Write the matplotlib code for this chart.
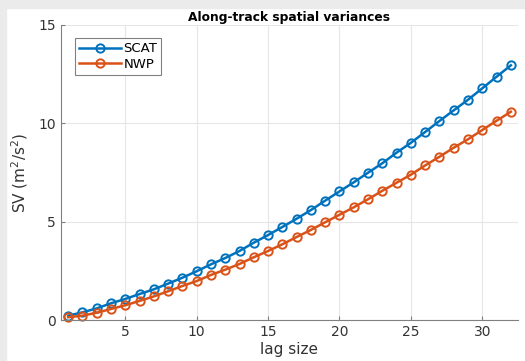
import matplotlib
matplotlib.use('Agg')
import matplotlib.pyplot as plt
from matplotlib.patches import Rectangle

# lag sizes and along-track spatial variances
lag = list(range(1, 33))
scat = [0.22, 0.39, 0.59, 0.85, 1.07, 1.32, 1.56, 1.85, 2.15, 2.48,
        2.83, 3.15, 3.51, 3.93, 4.32, 4.73, 5.15, 5.59, 6.07, 6.54,
        7.00, 7.49, 7.97, 8.51, 9.01, 9.56, 10.12, 10.66, 11.20, 11.78,
        12.37, 12.95]
nwp = [0.14, 0.22, 0.37, 0.56, 0.75, 0.97, 1.20, 1.46, 1.73, 1.98,
       2.29, 2.56, 2.85, 3.19, 3.51, 3.85, 4.22, 4.58, 4.97, 5.35,
       5.73, 6.14, 6.57, 6.98, 7.39, 7.86, 8.30, 8.76, 9.19, 9.66,
       10.13, 10.59]
xticks = [5, 10, 15, 20, 25, 30]
yticks = [0, 5, 10, 15]

fig = plt.figure(figsize=(5.25, 3.61), dpi=100, facecolor='white')
# grey window frame round the MATLAB canvas
fig.patches.append(Rectangle((0, 0), 6 / 525, 1, transform=fig.transFigure,
                             color='#ebebeb', zorder=-1))
fig.patches.append(Rectangle((0, 1 - 8 / 361), 1, 8 / 361, transform=fig.transFigure,
                             color='#ebebeb', zorder=-1))

ax = fig.add_axes([61 / 525, 41 / 361, 457 / 525, 295 / 361])
ax.plot(lag, scat, '-o', color='#0072BD', lw=1.8, ms=6, mew=1.4,
        mfc='none', label='SCAT', clip_on=False)
ax.plot(lag, nwp, '-o', color='#D95319', lw=1.8, ms=6, mew=1.4,
        mfc='none', label='NWP', clip_on=False)

ax.set_xlim(0.5, 32.5)
ax.set_ylim(0, 15)
ax.set_xticks(xticks)
ax.set_yticks(yticks)
ax.grid(True, color='#e6e6e6', lw=0.8)
ax.set_axisbelow(True)
for s in ['top', 'right']:
    ax.spines[s].set_visible(False)
for s in ['left', 'bottom']:
    ax.spines[s].set_color('#808080')
    ax.spines[s].set_linewidth(0.8)
ax.tick_params(direction='in', length=3, color='#808080', labelsize=10,
               labelcolor='#333333')

ax.set_xlabel('lag size', fontsize=11, color='#333333', labelpad=2)
ax.set_ylabel('SV (m$^2$/s$^2$)', fontsize=11, color='#333333', labelpad=6)
ax.set_title('Along-track spatial variances', fontsize=8.8, fontweight='bold', pad=3)

leg = ax.legend(loc='upper left', bbox_to_anchor=(0.03, 0.955), fontsize=9.5,
                fancybox=False, framealpha=1, edgecolor='#808080',
                handlelength=3.2, borderpad=0.3, labelspacing=0.2,
                handletextpad=0.2, borderaxespad=0)
leg.get_frame().set_linewidth(0.8)

fig.savefig('out.png', dpi=100)
